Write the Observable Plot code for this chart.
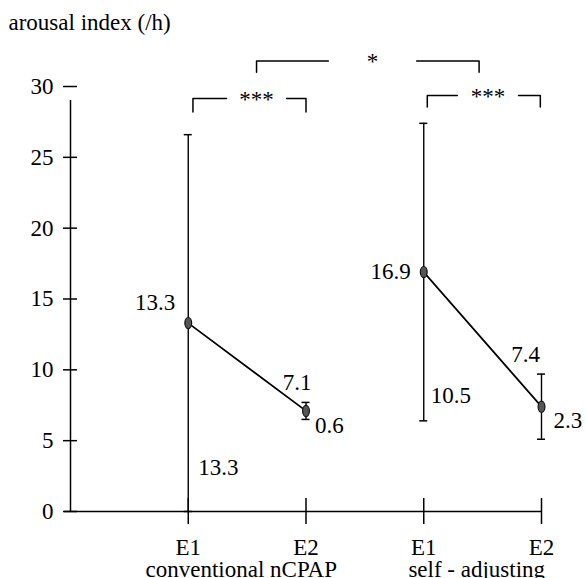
<!DOCTYPE html>
<html><head><meta charset="utf-8">
<script src="https://cdn.jsdelivr.net/npm/d3@7"></script>
<script src="https://cdn.jsdelivr.net/npm/@observablehq/plot@0.6"></script>
<style>body{margin:0;background:#fff}</style>
</head><body><div id="chart"></div>
<script>
const title = "arousal index (/h)";
const groups = ["conventional nCPAP", "self - adjusting"];
const phases = ["E1", "E2"];
const means = [13.3, 7.1, 16.9, 7.4];
const sds = [13.3, 0.6, 10.5, 2.3];
const yTicks = [0, 5, 10, 15, 20, 25, 30];
const sigLabels = ["***", "***", "*"];

const rows = means.map((m, i) => ({
  i, group: groups[Math.floor(i / 2)], phase: phases[i % 2],
  mean: m, sd: sds[i], lo: m - sds[i], hi: m + sds[i]
}));

const FONT = "Liberation Serif";
const FS = 23;
const SW = 1.5;

function bracket(x1, x2, yTop, yEnd, cx, hg, id) {
  return [
    {x: x1, y: yEnd, s: id + "a"}, {x: x1, y: yTop, s: id + "a"}, {x: cx - hg, y: yTop, s: id + "a"},
    {x: cx + hg, y: yTop, s: id + "b"}, {x: x2, y: yTop, s: id + "b"}, {x: x2, y: yEnd, s: id + "b"}
  ];
}
const br = [
  {pts: bracket(0.04, 1.0, 29.15, 28.2, 0.58, 0.255, "c"), cx: 0.58, y: 29.15, label: sigLabels[0]},
  {pts: bracket(2.03, 2.99, 29.36, 28.55, 2.545, 0.26, "s"), cx: 2.545, y: 29.36, label: sigLabels[1]},
  {pts: bracket(0.58, 2.47, 31.8, 31.0, 1.565, 0.375, "t"), cx: 1.565, y: 31.8, label: sigLabels[2]}
];

const ellipse = {
  draw(ctx) {
    const rx = 3.4, ry = 5.6, k = 0.5523;
    ctx.moveTo(rx, 0);
    ctx.bezierCurveTo(rx, ry * k, rx * k, ry, 0, ry);
    ctx.bezierCurveTo(-rx * k, ry, -rx, ry * k, -rx, 0);
    ctx.bezierCurveTo(-rx, -ry * k, -rx * k, -ry, 0, -ry);
    ctx.bezierCurveTo(rx * k, -ry, rx, -ry * k, rx, 0);
    ctx.closePath();
  }
};

const T = {fontSize: FS, fontFamily: FONT};
const lbl = (d, opts) => Plot.text([d], {x: "i", textAnchor: "start", ...T, ...opts});

const chart = Plot.plot({
  width: 586, height: 578,
  marginLeft: 70, marginRight: 0, marginTop: 0, marginBottom: 0,
  x: {type: "linear", domain: [-1, 3], range: [70, 541], axis: null},
  y: {domain: [0, 30], range: [511, 86], axis: null},
  marks: [
    Plot.axisY(yTicks, {anchor: "left", tickSize: 0, tickPadding: 17, ...T, label: null}),
    Plot.ruleX([-1], {y1: 0, y2: 30, insetBottom: -14, strokeWidth: SW}),
    Plot.ruleY(yTicks, {y: d => d, x1: -1, x2: -1, insetLeft: -7, insetRight: -7, strokeWidth: SW}),
    Plot.ruleY([0], {x1: -1, x2: 3, insetLeft: -6, strokeWidth: SW}),
    Plot.ruleX(rows, {x: "i", y1: 0, y2: 0, insetTop: -13, insetBottom: -13, strokeWidth: SW}),
    Plot.text(rows, {x: "i", y: 0, dy: 36, text: "phase", ...T}),
    Plot.text(groups, {x: (d, j) => 2 * j + 0.45, y: 0, dy: 58, text: d => d, ...T}),
    Plot.ruleX(rows, {x: "i", y1: "lo", y2: "hi", strokeWidth: 1.4}),
    Plot.ruleY(rows, {x1: "i", x2: "i", y: "hi", insetLeft: -4, insetRight: -4, strokeWidth: SW}),
    Plot.ruleY(rows, {x1: "i", x2: "i", y: "lo", insetLeft: -4, insetRight: -4, strokeWidth: SW}),
    Plot.line(rows, {x: "i", y: "mean", z: "group", strokeWidth: 1.7}),
    Plot.dot(rows, {x: "i", y: "mean", symbol: ellipse, fill: "#555", stroke: "#111", strokeWidth: 1.2}),
    lbl(rows[0], {y: "mean", text: d => d.mean.toFixed(1), textAnchor: "end", dx: -13, dy: -20}),
    lbl(rows[2], {y: "mean", text: d => d.mean.toFixed(1), textAnchor: "end", dx: -13, dy: 0}),
    lbl(rows[1], {y: "hi", text: d => d.mean.toFixed(1), textAnchor: "middle", dx: -9, dy: -20}),
    lbl(rows[3], {y: "hi", text: d => d.mean.toFixed(1), textAnchor: "middle", dx: -16, dy: -19}),
    lbl(rows[0], {y: "lo", text: d => d.sd.toFixed(1), dx: 10, dy: -44}),
    lbl(rows[2], {y: "lo", text: d => d.sd.toFixed(1), dx: 7, dy: -25}),
    lbl(rows[1], {y: "mean", text: d => d.sd.toFixed(1), dx: 9, dy: 15}),
    lbl(rows[3], {y: "mean", text: d => d.sd.toFixed(1), dx: 12, dy: 14}),
    ...br.map(b => Plot.line(b.pts, {x: "x", y: "y", z: "s", strokeWidth: SW})),
    Plot.text(br, {x: "cx", y: "y", text: "label", ...T, dy: 1}),
    Plot.text([title], {frameAnchor: "top-left", dx: -62, dy: 22, lineAnchor: "middle", textAnchor: "start", ...T, text: d => d})
  ]
});
chart.setAttribute("font-family", FONT);
document.getElementById("chart").appendChild(chart);
</script>
</body></html>
